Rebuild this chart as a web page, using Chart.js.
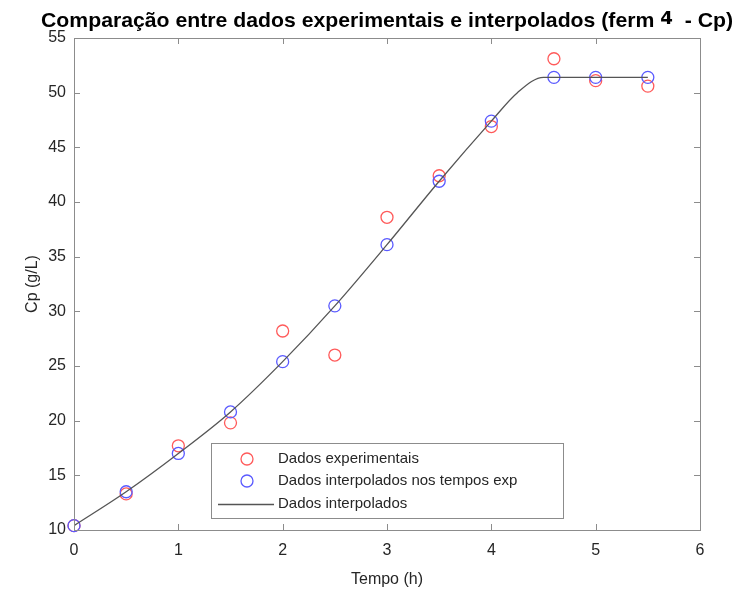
<!DOCTYPE html>
<html><head><meta charset="utf-8">
<script src="https://cdn.jsdelivr.net/npm/chart.js@4.4.1/dist/chart.umd.min.js"></script>
<style>html,body{margin:0;padding:0;background:#fff}#wrap{width:736px;height:593px}</style>
</head><body><div id="wrap"><canvas id="c" width="736" height="593"></canvas></div>
<script>
const times = [0, 0.5, 1, 1.5, 2, 2.5, 3, 3.5, 4, 4.6, 5, 5.5];
const experimental = [10.4, 13.3, 17.7, 19.8, 28.2, 26.0, 38.6, 42.4, 46.9, 53.1, 51.1, 50.6];
const interpolatedAtExp = [10.4, 13.5, 17.0, 20.8, 25.4, 30.5, 36.1, 41.9, 47.4, 51.4, 51.4, 51.4];
const curveT = [0, 0.5, 1, 1.5, 2, 2.5, 3, 3.5, 4, 4.25, 4.5, 5, 5.5];
const curveY = [10.4, 13.5, 17.0, 20.8, 25.4, 30.5, 36.1, 41.9, 47.4, 50.0, 51.4, 51.4, 51.4];
const xTicks = [0, 1, 2, 3, 4, 5, 6];
const yTicks = [10, 15, 20, 25, 30, 35, 40, 45, 50, 55];
const labels = ['Dados experimentais', 'Dados interpolados nos tempos exp', 'Dados interpolados'];
const titleParts = ['Comparação entre dados experimentais e interpolados (ferm ', '4', '  - Cp)'];

const toXY = (xs, ys) => xs.map((x, i) => ({x: x, y: ys[i]}));
const AXIS = '#8c8c8c', TXT = '#262626';
const FAM = '"Liberation Sans", Arial, sans-serif';

const boxPlugin = {
  id: 'box',
  afterDraw(chart) {
    const {ctx, chartArea: a, scales: {x, y}} = chart;
    ctx.save();
    ctx.strokeStyle = AXIS; ctx.lineWidth = 1;
    ctx.strokeRect(Math.round(a.left) + 0.5, Math.round(a.top) + 0.5, Math.round(a.right - a.left), Math.round(a.bottom - a.top));
    const L = 6;
    ctx.beginPath();
    xTicks.forEach(t => { const px = Math.round(x.getPixelForValue(t)) + 0.5;
      ctx.moveTo(px, a.bottom); ctx.lineTo(px, a.bottom - L);
      ctx.moveTo(px, a.top); ctx.lineTo(px, a.top + L); });
    yTicks.forEach(t => { const py = Math.round(y.getPixelForValue(t)) + 0.5;
      ctx.moveTo(a.left, py); ctx.lineTo(a.left + L, py);
      ctx.moveTo(a.right, py); ctx.lineTo(a.right - L, py); });
    ctx.stroke();
    // title
    ctx.fillStyle = '#000'; ctx.textBaseline = 'alphabetic';
    const f1 = 'bold 21px ' + FAM;
    const f2 = 'bold 18px "DejaVu Sans", sans-serif';
    ctx.font = f1; const w0 = ctx.measureText(titleParts[0]).width, w2 = ctx.measureText(titleParts[2]).width;
    ctx.font = f2; const w1 = ctx.measureText(titleParts[1]).width;
    const total = w0 + w1 + w2;
    const targetW = 692; const sx = targetW / total;
    ctx.translate(41, 26.5); ctx.scale(sx, 1);
    ctx.font = f1; ctx.fillText(titleParts[0], 0, 0);
    ctx.font = f2; ctx.fillText(titleParts[1], w0, -3);
    ctx.font = f1; ctx.fillText(titleParts[2], w0 + w1, 0);
    ctx.restore();
    // legend
    ctx.save();
    const lx = 211, ly = 443, lw = 352, lh = 75;
    ctx.fillStyle = '#fff'; ctx.fillRect(lx, ly, lw, lh);
    ctx.strokeStyle = '#8c8c8c'; ctx.lineWidth = 1; ctx.strokeRect(lx + 0.5, ly + 0.5, lw, lh);
    ctx.font = '15px ' + FAM; ctx.fillStyle = TXT; ctx.textBaseline = 'middle';
    const rows = [459, 481, 504];
    const ds = chart.data.datasets;
    ds.forEach((d, i) => {
      const ry = rows[i];
      if (i < 2) {
        ctx.beginPath(); ctx.strokeStyle = d.borderColor; ctx.lineWidth = 1.3;
        ctx.arc(247, ry, 6, 0, Math.PI * 2); ctx.stroke();
      } else {
        ctx.beginPath(); ctx.strokeStyle = d.borderColor; ctx.lineWidth = d.borderWidth;
        ctx.moveTo(218, ry + 0.5); ctx.lineTo(274, ry + 0.5); ctx.stroke();
      }
      ctx.fillText(labels[i], 278, ry);
    });
    ctx.restore();
  }
};

new Chart(document.getElementById('c'), {
  type: 'scatter',
  data: { datasets: [
    { label: labels[0], data: toXY(times, experimental), showLine: false, pointStyle: 'circle', pointRadius: 6, pointHoverRadius: 6, clip: false,
      pointBorderWidth: 1.3, borderColor: '#ff5a5a', pointBorderColor: '#ff5a5a', backgroundColor: 'rgba(0,0,0,0)', pointBackgroundColor: 'rgba(0,0,0,0)', order: 2 },
    { label: labels[1], data: toXY(times, interpolatedAtExp), showLine: false, pointStyle: 'circle', pointRadius: 6, pointHoverRadius: 6, clip: false,
      pointBorderWidth: 1.3, borderColor: '#5a5aff', pointBorderColor: '#5a5aff', backgroundColor: 'rgba(0,0,0,0)', pointBackgroundColor: 'rgba(0,0,0,0)', order: 1 },
    { label: labels[2], data: toXY(curveT, curveY), showLine: true, pointRadius: 0, borderColor: '#555555', borderWidth: 1.3,
      cubicInterpolationMode: 'monotone', fill: false, order: 0 }
  ]},
  options: {
    responsive: false, animation: false, devicePixelRatio: 1,
    layout: { padding: { left: 19, right: 36, top: 38, bottom: 0 } },
    plugins: { legend: { display: false }, tooltip: { enabled: false }, title: { display: false } },
    scales: {
      x: { type: 'linear', min: 0, max: 6,
        afterFit: s => { s.height = 63; },
        afterBuildTicks: s => { s.ticks = xTicks.map(v => ({value: v})); },
        grid: { display: false, drawTicks: false }, border: { display: true, color: AXIS },
        ticks: { color: TXT, font: { size: 16, family: FAM }, padding: 11 },
        title: { display: true, text: 'Tempo (h)', color: TXT, font: { size: 16, family: FAM }, padding: { top: 2 } } },
      y: { type: 'linear', min: 10, max: 55,
        afterFit: s => { s.width = 55; },
        afterBuildTicks: s => { s.ticks = yTicks.map(v => ({value: v})); },
        grid: { display: false, drawTicks: false }, border: { display: true, color: AXIS },
        ticks: { color: TXT, font: { size: 16, family: FAM }, padding: 8 },
        title: { display: true, text: 'Cp (g/L)', color: TXT, font: { size: 16, family: FAM }, padding: { bottom: 6 } } }
    }
  },
  plugins: [boxPlugin]
});
</script></body></html>
